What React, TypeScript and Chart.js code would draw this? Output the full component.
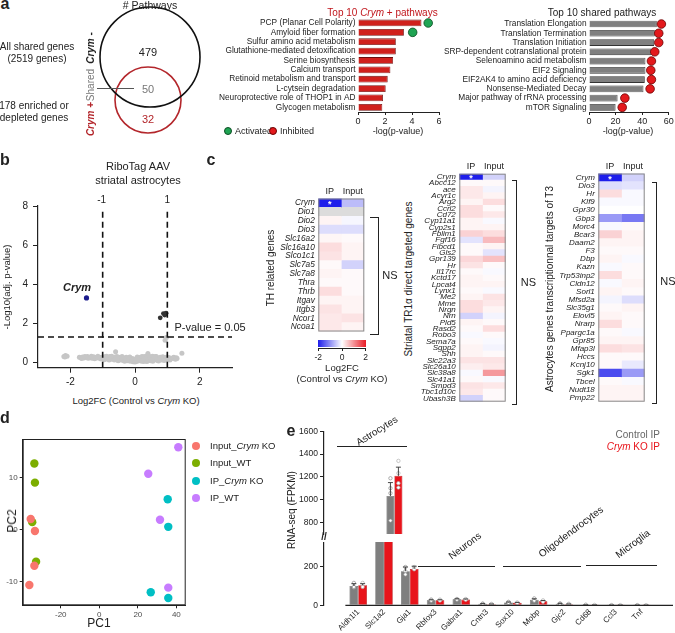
import React, { useEffect, useRef } from "react";
import { Chart, registerables } from "chart.js";

Chart.register(...registerables);

const FONT = "'Liberation Sans', Arial, Helvetica, sans-serif";
Chart.defaults.font.family = FONT;
Chart.defaults.color = "#222";

/* ================= DATA ================= */
// Panel a – Venn counts
const vennCounts = [479, 50, 32];
// Panel a – Top 10 Crym+ pathways
const crymPathways = [
  "PCP (Planar Cell Polarity)",
  "Amyloid fiber formation",
  "Sulfur amino acid metabolism",
  "Glutathione-mediated detoxification",
  "Serine biosynthesis",
  "Calcium transport",
  "Retinoid metabolism and transport",
  "L-cytsein degradation",
  "Neuroprotective role of THOP1 in AD",
  "Glycogen metabolism",
];
const crymLogP = [4.7, 3.4, 2.8, 2.8, 2.6, 2.4, 2.2, 2.05, 1.85, 1.8];
const crymActivatedZ = [5.2, 4.05, null, null, null, null, null, null, null, null];
// Panel a – Top 10 shared pathways
const sharedPathways = [
  "Translation Elongation",
  "Translation Termination",
  "Translation Initiation",
  "SRP-dependent cotranslational protein",
  "Selenoamino acid metabolism",
  "EIF2 Signaling",
  "EIF2AK4 to amino acid deficiency",
  "Nonsense-Mediated Decay",
  "Major pathway of rRNA processing",
  "mTOR Signaling",
];
const sharedLogP = [51, 49.5, 49, 47, 42.5, 42.5, 42, 41, 21.5, 20];
const sharedInhibitedZ = [54.5, 52.5, 52.5, 49.5, 47, 46.5, 47, 46, 27, 25];

// Panel b – volcano
const volcanoGray: [number, number][] = [
  [-2.2, 0.3], [-2.15, 0.36], [-2.1, 0.32], [-2.17, 0.28],
  [-1.72, 0.27], [-1.68, 0.24], [-1.62, 0.28], [-1.58, 0.22], [-1.52, 0.26], [-1.47, 0.3],
  [-1.42, 0.24], [-1.37, 0.27], [-1.33, 0.21], [-1.28, 0.29], [-1.23, 0.25], [-1.18, 0.22],
  [-1.13, 0.28], [-1.08, 0.2], [-1.04, 0.26], [-0.98, 0.23], [-0.94, 0.29], [-0.9, 0.18],
  [-0.86, 0.25], [-0.82, 0.21], [-0.78, 0.3], [-0.74, 0.16], [-0.7, 0.24], [-0.66, 0.2],
  [-0.62, 0.28], [-0.6, 0.55], [-0.58, 0.14], [-0.54, 0.22], [-0.5, 0.26], [-0.47, 0.12],
  [-0.44, 0.19], [-0.4, 0.3], [-0.37, 0.1], [-0.34, 0.22], [-0.3, 0.16], [-0.27, 0.27],
  [-0.24, 0.08], [-0.21, 0.18], [-0.18, 0.24], [-0.15, 0.06], [-0.12, 0.14], [-0.09, 0.2],
  [-0.06, 0.03], [-0.03, 0.1], [0, 0.02], [0.02, 0.16], [0.05, 0.05], [0.08, 0.22],
  [0.11, 0.09], [0.14, 0.15], [0.17, 0.27], [0.2, 0.06], [0.23, 0.19], [0.26, 0.12],
  [0.29, 0.3], [0.32, 0.09], [0.35, 0.22], [0.38, 0.35], [0.4, 0.45], [0.42, 0.14],
  [0.45, 0.26], [0.48, 0.08], [0.51, 0.2], [0.54, 0.32], [0.57, 0.12], [0.6, 0.24],
  [0.63, 0.17], [0.66, 0.3], [0.69, 0.1], [0.72, 0.22], [0.75, 0.15], [0.78, 0.27],
  [0.81, 0.13], [0.84, 0.21], [0.88, 0.17], [0.92, 0.25], [0.96, 0.14], [1.0, 0.2],
  [1.05, 0.25], [1.1, 0.18], [1.16, 0.23], [1.22, 0.2], [1.28, 0.24], [1.45, 0.47],
  [0.93, 1.13], [0.97, 1.27],
  [-1.65, 0.2], [-1.55, 0.3], [-1.45, 0.21], [-1.35, 0.31], [-1.25, 0.19], [-1.15, 0.31],
  [-1.05, 0.17], [-0.95, 0.14], [-0.88, 0.32], [-0.8, 0.12], [-0.72, 0.31], [-0.64, 0.13],
  [-0.56, 0.3], [-0.52, 0.09], [-0.42, 0.26], [-0.32, 0.06], [-0.28, 0.2], [-0.2, 0.12],
  [-0.16, 0.28], [-0.1, 0.08], [-0.04, 0.18], [0.03, 0.1], [0.07, 0.28], [0.12, 0.2],
  [0.18, 0.12], [0.22, 0.3], [0.27, 0.05], [0.33, 0.17], [0.37, 0.05], [0.44, 0.32],
  [0.5, 0.13], [0.55, 0.06], [0.62, 0.3], [0.67, 0.14], [0.73, 0.07], [0.79, 0.19],
  [0.86, 0.29], [0.9, 0.1], [0.99, 0.28], [1.08, 0.13], [1.2, 0.27], [1.25, 0.16], [1.3, 0.2],
];
const volcanoUp: [number, number][] = [[0.78, 2.28], [0.88, 2.5], [0.96, 2.52], [0.92, 2.42]];
const volcanoCrym: [number, number] = [-1.5, 3.3];
const fcCutoffs = [-1, 1];
const pValueCutoff = -Math.log10(0.05);
const cutoffLineTop = 7.9;

// Panel c – heatmaps (Log2FC Control vs Crym KO)
const heatColumns = ["IP", "Input"];
const starredGenes = ["Crym"];
const thGenes = ["Crym", "Dio1", "Dio2", "Dio3", "Slc16a2", "Slc16a10", "Slco1c1", "Slc7a5", "Slc7a8", "Thra", "Thrb", "Itgav", "Itgb3", "Ncor1", "Ncoa1"];
const thIP = [-2, null, 0.1, -0.3, 0.08, 0.3, 0.25, 0.05, 0.1, 0.05, 0.3, 0.1, 0.25, 0.2, 0.2];
const thInput = [-0.6, null, -0.08, -0.3, 0.05, 0.1, 0.1, -0.4, 0.05, 0.05, 0.05, 0.1, 0.1, 0.25, 0.1];
const tr1Genes = ["Crym", "Abcc12", "ace", "Acyr1c", "Arg2", "Ccrl2", "Cd72", "Cyp11a1", "Cyp2s1", "Fblim1", "Fgf16", "Fibcd1", "Gls2", "Gpr139", "Hr", "Il17rc", "Kctd17", "Lpcat4", "Lynx1", "Me2", "Mme", "Nrgn", "Nrn", "Pld5", "Rasd2", "Robo3", "Sema7a", "Sgpp2", "Shh", "Slc22a3", "Slc26a10", "Slc38a8", "Slc41a1", "Smpd3", "Tbc1d10c", "Ubash3B"];
const tr1IP = [-2, 0.05, 0.2, 0.2, 0.1, 0.3, 0.3, 0.1, 0.1, 0.4, -0.25, 0.05, 0.05, 0.35, 0.25, 0.05, 0.1, 0.1, 0.05, 0.1, 0.3, 0.3, -0.4, 0.1, 0.05, -0.05, 0.05, 0.1, 0.1, 0.25, 0.15, -0.05, 0.05, 0.25, 0.2, -0.4];
const tr1Input = [-0.4, 0.05, -0.1, 0.1, 0.3, 0.05, 0.2, -0.05, 0.1, 0.3, 0.6, 0.1, -0.25, 0.55, 0.05, -0.05, 0.05, 0.1, -0.05, 0.25, 0.2, 0.1, -0.1, 0.05, 0.3, 0.05, -0.05, -0.1, 0.05, 0.25, 0.2, 0.9, -0.05, 0.2, 0.05, 0.05];
const t3Genes = ["Crym", "Dio3", "Hr", "Klf9", "Gpr30", "Gbp3", "Morc4", "Bcar3", "Daam2", "F3", "Dbp", "Kazn", "Trp53inp2", "Cldn12", "Sorl1", "Mfsd2a", "Slc35g1", "Elovl5", "Nrarp", "Ppargc1a", "Gpr85", "Mfap3l", "Hccs", "Kcnj10", "Sgk1", "Tbcel", "Nudt18", "Pmp22"];
const t3IP = [-2, -0.3, 0.3, -0.05, 0, -0.9, -0.05, 0.4, 0.1, 0.05, 0.1, -0.05, 0.3, -0.05, 0.1, -0.1, 0.05, 0.1, 0.3, 0.05, 0.1, 0.3, 0.05, 0.05, -1.6, 0.05, 0.1, 0.1];
const t3Input = [-0.4, -0.25, -0.05, -0.05, 0, -1.2, 0.05, 0.1, 0.1, 0.05, -0.05, 0.05, 0.05, 0.1, 0.05, -0.3, 0.1, 0.05, 0.05, -0.05, 0.1, 0.25, 0.05, -0.2, -0.9, -0.05, 0.1, 0.1];
const colorbarTicks = [-2, 0, 2];

// Panel d – PCA
const pcaGroups = ["Input_Crym KO", "Input_WT", "IP_Crym KO", "IP_WT"];
const inputKoPC1 = [-35.6, -33.4, -33.7, -36.3];
const inputKoPC2 = [2.0, -0.3, -7.0, -10.7];
const inputWtPC1 = [-33.7, -33.4, -34.8, -32.8];
const inputWtPC2 = [12.7, 9.0, 1.4, -6.2];
const ipKoPC1 = [35.5, 35.8, 26.7, 35.8];
const ipKoPC2 = [5.8, 0.5, -12.1, -13.2];
const ipWtPC1 = [25.4, 31.5, 35.8, 41.0];
const ipWtPC2 = [10.7, 1.85, -11.2, 15.8];

// Panel e – RNA-seq FPKM
const eGenes = ["Aldh1l1", "Slc1a2", "Gja1", "Rbfox3", "Gabra1", "Cntn3", "Sox10", "Mobp", "Gjc2", "Cd68", "Ccl3", "Tnf"];
const ctrlMean = [101, 1034, 178, 26, 31, 8, 15, 29, 8, 2, 1, 1];
const koMean = [105, 1210, 190, 26, 30, 6, 13, 21, 6, 1.5, 1, 1];
const ctrlErr = [12, 117, 22, 3, 3, 1, 2, 5, 2, 0.5, 0.3, 0.3];
const koErr = [8, 76, 14, 3, 3, 1, 2, 4, 1, 0.5, 0.3, 0.3];
const ctrlDots = [[117, 93, 96], [1189, 1102, 1058, 818], [200, 178, 161], [30, 24], [33, 29], [9, 7], [18, 13], [36, 24], [10, 7], [3], [1], [1]];
const koDots = [[117, 96], [1341, 1233, 1146, 1107], [200, 188], [30, 25], [33, 29], [7, 6], [15, 12], [26, 18], [8, 5], [2], [1], [1]];
const eGroups = ["Astrocytes", "Neurons", "Oligodendrocytes", "Microglia"];

/* ================= HELPERS ================= */
function heatColor(v: number | null) {
  if (v === null || v === undefined) return "#dcdcdc";
  const t = Math.max(-1, Math.min(1, v / 2));
  const tgt = t < 0 ? [30, 30, 235] : [232, 28, 38];
  const a = Math.abs(t);
  const c = tgt.map((k) => Math.round(255 + (k - 255) * a));
  return `rgb(${c[0]},${c[1]},${c[2]})`;
}

const fixW = (w: number) => (s: any) => {
  s.width = w;
};
const fixH = (h: number) => (s: any) => {
  s.height = h;
};
const setTicks = (vals: number[]) => (s: any) => {
  s.ticks = vals.map((v) => ({ value: v }));
};
const plainNum = (v: any) => String(v);

const framePlugin = (color: string, inset = 0.5) => ({
  id: "frame",
  afterDatasetsDraw(chart: any) {
    const a = chart.chartArea;
    const ctx = chart.ctx;
    ctx.save();
    ctx.strokeStyle = color;
    ctx.lineWidth = 1;
    ctx.strokeRect(a.left + inset, a.top + inset, a.right - a.left - 2 * inset, a.bottom - a.top - 2 * inset);
    ctx.restore();
  },
});

const heatStarPlugin = {
  id: "heatStar",
  afterDatasetsDraw(chart: any) {
    const meta = chart.getDatasetMeta(0);
    const genes = chart.data.labels;
    const ctx = chart.ctx;
    ctx.save();
    ctx.fillStyle = "#fff";
    ctx.font = `bold 9px ${FONT}`;
    ctx.textAlign = "center";
    ctx.textBaseline = "middle";
    meta.data.forEach((el: any, i: number) => {
      if (starredGenes.includes(genes[i])) {
        const p = el.getProps(["x", "base", "y"], true);
        ctx.fillText("*", (p.x + p.base) / 2, p.y + 2);
      }
    });
    ctx.restore();
  },
};

const errorBarPlugin = {
  id: "errbars",
  afterDatasetsDraw(chart: any) {
    const ctx = chart.ctx;
    const ys = chart.scales.y;
    const a = chart.chartArea;
    ctx.save();
    ctx.beginPath();
    ctx.rect(a.left, a.top - 2, a.right - a.left, a.bottom - a.top + 2);
    ctx.clip();
    ctx.strokeStyle = "#333";
    ctx.lineWidth = 0.9;
    chart.data.datasets.forEach((ds: any, di: number) => {
      if (!ds.errs) return;
      const meta = chart.getDatasetMeta(di);
      meta.data.forEach((el: any, i: number) => {
        const v = ds.data[i].y;
        const top = ys.getPixelForValue(v + ds.errs[i]);
        const base = ys.getPixelForValue(v);
        ctx.beginPath();
        ctx.moveTo(el.x, base);
        ctx.lineTo(el.x, top);
        ctx.moveTo(el.x - 2.5, top);
        ctx.lineTo(el.x + 2.5, top);
        ctx.stroke();
      });
    });
    ctx.restore();
  },
};

const xLinePlugin = {
  id: "xline",
  afterDatasetsDraw(chart: any) {
    const ctx = chart.ctx;
    const a = chart.chartArea;
    const x0 = chart.scales.x.getPixelForValue(-0.5);
    ctx.save();
    ctx.strokeStyle = "#222";
    ctx.lineWidth = 1.2;
    ctx.beginPath();
    ctx.moveTo(x0, a.bottom);
    ctx.lineTo(a.right, a.bottom);
    ctx.stroke();
    ctx.restore();
  },
};

const baseOpts = {
  responsive: false,
  animation: false as const,
  plugins: { legend: { display: false }, tooltip: { enabled: false } },
};

const axisTicks = (len: number) => ({
  display: true,
  drawOnChartArea: false,
  drawTicks: true,
  tickLength: len,
  color: "#222",
  lineWidth: 1,
});
const noGrid = { display: false, drawTicks: false, tickLength: 0 };

function ChartBox({ left, top, width, height, config }: { left: number; top: number; width: number; height: number; config: any }) {
  const ref = useRef<HTMLCanvasElement>(null);
  useEffect(() => {
    const chart = new Chart(ref.current as HTMLCanvasElement, config);
    return () => chart.destroy();
  }, []);
  return <canvas ref={ref} width={width} height={height} style={{ position: "absolute", left, top, width, height }} />;
}

function T({ x, y, s = 10, c = "#222", b = false, i = false, r = 0, a = "c", children }: any) {
  const tx = a === "c" ? "-50%" : a === "r" ? "-100%" : "0%";
  return (
    <div
      style={{
        position: "absolute",
        left: x,
        top: y,
        fontSize: s,
        color: c,
        fontWeight: b ? 700 : 400,
        fontStyle: i ? "italic" : "normal",
        whiteSpace: "nowrap",
        lineHeight: 1,
        transform: `translate(${tx}, -50%) rotate(${r}deg)`,
      }}
    >
      {children}
    </div>
  );
}

function HLine({ x1, x2, y, c = "#222", w = 1 }: any) {
  return <div style={{ position: "absolute", left: x1, top: y - w / 2, width: x2 - x1, height: w, background: c }} />;
}

function Bracket({ x1, x2, y1, y2 }: any) {
  return (
    <div
      style={{
        position: "absolute",
        left: x1,
        top: y1,
        width: x2 - x1,
        height: y2 - y1,
        borderTop: "1px solid #222",
        borderRight: "1px solid #222",
        borderBottom: "1px solid #222",
        boxSizing: "border-box",
      }}
    />
  );
}

function Dot({ x, y, r, c, bc }: any) {
  return (
    <div
      style={{
        position: "absolute",
        left: x - r,
        top: y - r,
        width: 2 * r,
        height: 2 * r,
        borderRadius: "50%",
        background: c,
        border: bc ? `0.8px solid ${bc}` : undefined,
        boxSizing: "border-box",
      }}
    />
  );
}

/* ================= CONFIGS ================= */
const vennConfig = {
  type: "scatter",
  data: {
    datasets: [
      { data: [{ x: 60, y: 57 }], pointRadius: 50, backgroundColor: "rgba(0,0,0,0)", borderColor: "#111", borderWidth: 1.6, clip: false },
      { data: [{ x: 58, y: 100 }], pointRadius: 33, backgroundColor: "rgba(0,0,0,0)", borderColor: "#b3262b", borderWidth: 1.6, clip: false },
    ],
  },
  options: {
    ...baseOpts,
    layout: { padding: 0, autoPadding: false },
    scales: {
      x: { type: "linear", min: 0, max: 120, display: false },
      y: { type: "linear", min: 0, max: 140, reverse: true, display: false },
    },
  },
};

function hbarConfig(labels: string[], values: number[], dots: (number | null)[], barColor: string, barBorder: string, dotColor: string, dotBorder: string, xmax: number, xticks: number[], yWidth: number, padding: any) {
  return {
    type: "bar",
    data: {
      labels,
      datasets: [
        {
          type: "scatter",
          data: dots.map((v, i) => (v == null ? null : { x: v, y: labels[i] })).filter((d) => d),
          backgroundColor: dotColor,
          borderColor: dotBorder,
          borderWidth: 0.8,
          pointRadius: 4.3,
          clip: false,
          order: 0,
        },
        {
          type: "bar",
          data: values,
          backgroundColor: barColor,
          borderColor: barBorder,
          borderWidth: 0.8,
          barPercentage: 0.72,
          categoryPercentage: 1,
          order: 1,
        },
      ],
    },
    options: {
      ...baseOpts,
      indexAxis: "y",
      layout: { padding, autoPadding: false },
      scales: {
        x: {
          type: "linear",
          min: 0,
          max: xmax,
          afterBuildTicks: setTicks(xticks),
          afterFit: fixH(18),
          grid: axisTicks(3),
          border: { display: true, color: "#222", width: 1 },
          ticks: { font: { size: 9 }, padding: 1, color: "#222" },
        },
        y: {
          type: "category",
          afterFit: fixW(yWidth),
          grid: noGrid,
          border: { display: false },
          ticks: { font: { size: 8.3 }, padding: 2.5, color: "#222", autoSkip: false },
        },
      },
    },
  };
}

const volcanoConfig = {
  type: "scatter",
  data: {
    datasets: [
      ...fcCutoffs.map((c) => ({
        type: "line",
        data: [{ x: c, y: -0.27 }, { x: c, y: cutoffLineTop }],
        borderColor: "#111",
        borderWidth: 1.6,
        borderDash: [6, 4],
        pointRadius: 0,
        clip: false,
        order: 0,
      })),
      {
        type: "line",
        data: [{ x: -3, y: pValueCutoff }, { x: 3, y: pValueCutoff }],
        borderColor: "#111",
        borderWidth: 1.6,
        borderDash: [6, 4],
        pointRadius: 0,
        clip: false,
        order: 0,
      },
      { data: [{ x: volcanoCrym[0], y: volcanoCrym[1] }], pointRadius: 2.6, backgroundColor: "#1c1c8c", borderWidth: 0, order: 1 },
      { data: volcanoUp.map(([x, y]) => ({ x, y })), pointRadius: 2.4, backgroundColor: "#333", borderWidth: 0, order: 2 },
      { data: volcanoGray.map(([x, y]) => ({ x, y })), pointRadius: 2.5, backgroundColor: "#c6c6c6", borderWidth: 0, order: 3 },
    ],
  },
  options: {
    ...baseOpts,
    layout: { padding: { top: 9.7, right: 18, left: 0, bottom: 0 }, autoPadding: false },
    scales: {
      x: {
        type: "linear",
        min: -3,
        max: 3,
        afterBuildTicks: setTicks([-2, 0, 2]),
        afterFit: fixH(18.3),
        grid: axisTicks(5),
        border: { display: true, color: "#222", width: 1.2 },
        ticks: { font: { size: 10 }, padding: 4, color: "#222" },
      },
      y: {
        type: "linear",
        min: -0.27,
        max: 8,
        afterBuildTicks: setTicks([0, 2, 4, 6, 8]),
        afterFit: fixW(38),
        grid: axisTicks(5),
        border: { display: true, color: "#222", width: 1.2 },
        ticks: { font: { size: 10 }, padding: 5, color: "#222" },
      },
    },
  },
};

function heatConfig(genes: string[], ip: (number | null)[], inp: (number | null)[], yWidth: number, topH: number, padding: any, labelSize: number) {
  return {
    type: "bar",
    data: {
      labels: genes,
      datasets: [
        { label: heatColumns[0], data: genes.map(() => 1), backgroundColor: ip.map(heatColor), borderWidth: 0, barPercentage: 1, categoryPercentage: 1 },
        { label: heatColumns[1], data: genes.map(() => 1), backgroundColor: inp.map(heatColor), borderWidth: 0, barPercentage: 1, categoryPercentage: 1 },
      ],
    },
    options: {
      ...baseOpts,
      indexAxis: "y",
      layout: { padding, autoPadding: false },
      scales: {
        x: {
          type: "linear",
          stacked: true,
          position: "top",
          min: 0,
          max: 2,
          afterBuildTicks: setTicks([0.5, 1.5]),
          afterFit: fixH(topH),
          grid: noGrid,
          border: { display: false },
          ticks: { callback: (_v: any, i: number) => heatColumns[i], font: { size: 9 }, padding: 1.5, color: "#222", maxRotation: 0 },
        },
        y: {
          type: "category",
          stacked: true,
          afterFit: fixW(yWidth),
          grid: noGrid,
          border: { display: false },
          ticks: { font: { size: labelSize, style: "italic" }, autoSkip: false, padding: 3.5, color: "#222" },
        },
      },
    },
    plugins: [heatStarPlugin, framePlugin("#888")],
  };
}

const pcaColors = ["#F8766D", "#7CAE00", "#00BFC4", "#C77CFF"];
const pcaPC1 = [inputKoPC1, inputWtPC1, ipKoPC1, ipWtPC1];
const pcaPC2 = [inputKoPC2, inputWtPC2, ipKoPC2, ipWtPC2];
const pcaConfig = {
  type: "scatter",
  data: {
    datasets: pcaGroups.map((g, gi) => ({
      label: g,
      data: pcaPC1[gi].map((x, k) => ({ x, y: pcaPC2[gi][k] })),
      backgroundColor: pcaColors[gi],
      borderWidth: 0,
      pointRadius: 4.2,
    })),
  },
  options: {
    ...baseOpts,
    layout: { padding: { top: 9, right: 9.3, left: 0, bottom: 0 }, autoPadding: false },
    scales: {
      x: {
        type: "linear",
        min: -39.75,
        max: 44.84,
        afterBuildTicks: setTicks([-20, 0, 20, 40]),
        afterFit: fixH(27.7),
        grid: axisTicks(3),
        border: { display: true, color: "#222", width: 1 },
        ticks: { font: { size: 8 }, padding: 2, color: "#4d4d4d" },
      },
      y: {
        type: "linear",
        min: -14.6,
        max: 17.4,
        afterBuildTicks: setTicks([-10, 0, 10]),
        afterFit: fixW(22.7),
        grid: axisTicks(3),
        border: { display: true, color: "#222", width: 1 },
        ticks: { font: { size: 8 }, padding: 2, color: "#4d4d4d" },
      },
    },
  },
  plugins: [framePlugin("#222")],
};

const E_HALF = 0.17;
function eDatasets() {
  const dotPts = (dots: number[][], off: number) =>
    dots.flatMap((arr, i) => arr.map((y) => ({ x: i + off, y })));
  return [
    {
      type: "scatter",
      data: dotPts(ctrlDots, -E_HALF),
      pointRadius: 1.7,
      backgroundColor: "#ffffff",
      borderColor: "#8c8c8c",
      borderWidth: 0.7,
      order: 0,
    },
    {
      type: "scatter",
      data: dotPts(koDots, E_HALF),
      pointRadius: 1.7,
      backgroundColor: "#ffffff",
      borderColor: "#b0b0b0",
      borderWidth: 0.7,
      order: 0,
    },
    {
      type: "bar",
      data: ctrlMean.map((y, i) => ({ x: i, y })),
      errs: ctrlErr,
      backgroundColor: "#7f7f7f",
      borderColor: "#505050",
      borderWidth: 0.6,
      barPercentage: 1,
      categoryPercentage: 0.68,
      order: 1,
    },
    {
      type: "bar",
      data: koMean.map((y, i) => ({ x: i, y })),
      errs: koErr,
      backgroundColor: "#e8141b",
      borderColor: "#a00000",
      borderWidth: 0.6,
      barPercentage: 1,
      categoryPercentage: 0.68,
      order: 1,
    },
  ];
}

const E_XMIN = -0.765;
const E_XMAX = 11.65;

const eTopConfig = {
  type: "bar",
  data: { datasets: eDatasets() },
  options: {
    ...baseOpts,
    layout: { padding: { top: 11.3, right: 2, left: 0, bottom: 10.9 }, autoPadding: false },
    scales: {
      x: { type: "linear", min: E_XMIN, max: E_XMAX, display: false },
      y: {
        type: "linear",
        min: 700,
        max: 1600,
        afterBuildTicks: setTicks([800, 1000, 1200, 1400, 1600]),
        afterFit: fixW(44),
        grid: axisTicks(4),
        border: { display: true, color: "#222", width: 1.2 },
        ticks: { font: { size: 8.5 }, padding: 2, color: "#222", callback: plainNum },
      },
    },
  },
  plugins: [errorBarPlugin],
};

const eBottomConfig = {
  type: "bar",
  data: { datasets: eDatasets() },
  options: {
    ...baseOpts,
    layout: { padding: { top: 6.7, right: 2, left: 0, bottom: 0 }, autoPadding: false },
    scales: {
      x: {
        type: "linear",
        min: E_XMIN,
        max: E_XMAX,
        afterBuildTicks: setTicks(eGenes.map((_g, i) => i)),
        afterFit: fixH(27.7),
        grid: noGrid,
        border: { display: false },
        ticks: {
          callback: (_v: any, i: number) => eGenes[i],
          font: { size: 8 },
          minRotation: 45,
          maxRotation: 45,
          padding: 2,
          color: "#222",
          autoSkip: false,
        },
      },
      y: {
        type: "linear",
        min: 0,
        max: 330,
        afterBuildTicks: setTicks([0, 200]),
        afterFit: fixW(44),
        grid: axisTicks(4),
        border: { display: true, color: "#222", width: 1.2 },
        ticks: { font: { size: 8.5 }, padding: 2, color: "#222", callback: plainNum },
      },
    },
  },
  plugins: [errorBarPlugin, xLinePlugin],
};

const crymConfig = hbarConfig(crymPathways, crymLogP, crymActivatedZ, "#d0201c", "#6b0d0d", "#1fa453", "#0b4d22", 6, [0, 2, 4, 6], 158, { top: 8.3, right: 11, left: 0, bottom: 0 });
const sharedConfig = hbarConfig(sharedPathways, sharedLogP, sharedInhibitedZ, "#808080", "#333333", "#e3191c", "#6a0000", 60, [0, 20, 40, 60], 149, { top: 9.4, right: 6.3, left: 0, bottom: 0 });
const th = heatConfig(thGenes, thIP, thInput, 78.3, 18.5, { top: 0, right: 5.7, left: 0, bottom: 6 }, 8.3);
const tr1 = heatConfig(tr1Genes, tr1IP, tr1Input, 44.3, 23.7, { top: 0, right: 4.3, left: 0, bottom: 6 }, 8);
const t3 = heatConfig(t3Genes, t3IP, t3Input, 48.3, 23.5, { top: 0, right: 5.3, left: 0, bottom: 6 }, 8);

/* ================= APP ================= */
export default function App() {
  const red = "#c0161c";
  return (
    <div style={{ position: "fixed", left: 0, top: 0, width: 675, height: 633, overflow: "hidden", background: "#fff", fontFamily: FONT, color: "#222" }}>
      {/* Panel a */}
      <ChartBox left={90} top={0} width={120} height={140} config={vennConfig} />
      <ChartBox left={200} top={10} width={250} height={120} config={crymConfig} />
      <ChartBox left={440} top={10} width={235} height={120} config={sharedConfig} />
      <T x={5} y={4} s={16} b>a</T>
      <T x={150} y={5} s={10.5}># Pathways</T>
      <T x={37} y={47}>All shared genes</T>
      <T x={37} y={59}>(2519 genes)</T>
      <T x={34} y={106}>178 enriched or</T>
      <T x={34} y={118}>depleted genes</T>
      <T x={91} y={48} r={-90} b><i>Crym</i> -</T>
      <T x={91} y={85} r={-90} c="#777">Shared</T>
      <T x={91} y={119} r={-90} b c="#b3262b"><i>Crym</i> +</T>
      <HLine x1={97} x2={134} y={88.5} c="#555" w={1} />
      <T x={148} y={52} s={11}>{vennCounts[0]}</T>
      <T x={148} y={89} s={11} c="#777">{vennCounts[1]}</T>
      <T x={148} y={119} s={11} c="#b3262b">{vennCounts[2]}</T>
      <T x={382.5} y={13} c={red}>Top 10 <i>Crym</i> + pathways</T>
      <T x={602} y={13}>Top 10 shared pathways</T>
      <Dot x={228} y={131} r={4.2} c="#1fa453" bc="#0b4d22" />
      <T x={235} y={131} s={9} a="l">Activated</T>
      <Dot x={273} y={131} r={4.2} c="#e3191c" bc="#6a0000" />
      <T x={280} y={131} s={9} a="l">Inhibited</T>
      <T x={398} y={131} s={9}>-log(p-value)</T>
      <T x={628} y={131} s={9}>-log(p-value)</T>

      {/* Panel b */}
      <ChartBox left={0} top={195} width={250} height={191} config={volcanoConfig} />
      <T x={5} y={160} s={16} b>b</T>
      <T x={138} y={166} s={11}>RiboTag AAV</T>
      <T x={138} y={179.5} s={11}>striatal astrocytes</T>
      <T x={101.7} y={200} s={10}>-1</T>
      <T x={167.3} y={200} s={10}>1</T>
      <T x={77} y={287} s={11} b i>Crym</T>
      <T x={210} y={327} s={11}>P-value = 0.05</T>
      <T x={7} y={287} s={9.5} r={-90}>-Log10(adj. p-value)</T>
      <T x={136} y={401} s={9.5}>Log2FC (Control vs <i>Crym</i> KO)</T>

      {/* Panel c */}
      <ChartBox left={240} top={180} width={130} height={160} config={th} />
      <ChartBox left={415} top={150} width={95} height={260} config={tr1} />
      <ChartBox left={550} top={150} width={100} height={260} config={t3} />
      <T x={211} y={160} s={16} b>c</T>
      <T x={271} y={268} s={10} r={-90}>TH related genes</T>
      <T x={409} y={279} s={10} r={-90}>Striatal TR1α direct targeted genes</T>
      <T x={550} y={289} s={10} r={-90}>Astrocytes genes transcriptionnal targets of T3</T>
      <Bracket x1={370} x2={378.5} y1={216.5} y2={334.5} />
      <Bracket x1={511.5} x2={517} y1={180} y2={404.5} />
      <Bracket x1={651.5} x2={657} y1={181.7} y2={404.5} />
      <T x={390} y={275} s={11}>NS</T>
      <T x={528.5} y={281.5} s={11}>NS</T>
      <T x={668} y={281} s={11}>NS</T>
      <div style={{ position: "absolute", left: 318.3, top: 340, width: 47.4, height: 7, background: `linear-gradient(to right, ${heatColor(-2)}, #ffffff, ${heatColor(2)})` }} />
      <HLine x1={318.3} x2={365.7} y={348} w={1} />
      {colorbarTicks.map((v) => (
        <React.Fragment key={v}>
          <div style={{ position: "absolute", left: 318.3 + ((v + 2) / 4) * 47.4 - 0.5, top: 348, width: 1, height: 3, background: "#222" }} />
          <T x={318.3 + ((v + 2) / 4) * 47.4} y={357} s={8.5}>{v}</T>
        </React.Fragment>
      ))}
      <T x={342} y={368} s={9.5}>Log2FC</T>
      <T x={342} y={379} s={9.5}>(Control vs <i>Crym</i> KO)</T>

      {/* Panel d */}
      <ChartBox left={0} top={430} width={195} height={203} config={pcaConfig} />
      <T x={5} y={418} s={16} b>d</T>
      {pcaGroups.map((g, gi) => {
        const y = [446, 463.3, 481, 498.3][gi];
        const parts = g.split("Crym");
        return (
          <React.Fragment key={g}>
            <Dot x={196} y={y} r={4.2} c={pcaColors[gi]} />
            <T x={210} y={y} s={9.5} a="l">
              {parts.length > 1 ? (
                <>
                  {parts[0]}
                  <i>Crym</i>
                  {parts[1]}
                </>
              ) : (
                g
              )}
            </T>
          </React.Fragment>
        );
      })}
      <T x={12} y={521} s={12} r={-90}>PC2</T>
      <T x={99} y={623} s={12}>PC1</T>

      {/* Panel e */}
      <ChartBox left={280} top={420} width={395} height={125} config={eTopConfig} />
      <ChartBox left={280} top={535} width={395} height={98} config={eBottomConfig} />
      <T x={291} y={431} s={16} b>e</T>
      <T x={291.7} y={510} s={10} r={-90}>RNA-seq (FPKM)</T>
      <T x={660} y={435} s={10} a="r" c="#666">Control IP</T>
      <T x={660} y={447} s={10} a="r" c="#e8141b"><i>Crym</i> KO IP</T>
      <T x={324} y={537} s={10} b>//</T>
      <HLine x1={337} x2={407} y={446.7} w={1.4} />
      <HLine x1={418} x2={495} y={566.7} w={1.4} />
      <HLine x1={503} x2={581} y={566.2} w={1.4} />
      <HLine x1={586} x2={657} y={565.8} w={1.4} />
      <T x={377} y={431} s={10} r={-32}>{eGroups[0]}</T>
      <T x={465} y={546} s={10} r={-37}>{eGroups[1]}</T>
      <T x={571} y={532} s={10} r={-37}>{eGroups[2]}</T>
      <T x={633} y={544} s={10} r={-37}>{eGroups[3]}</T>
    </div>
  );
}
